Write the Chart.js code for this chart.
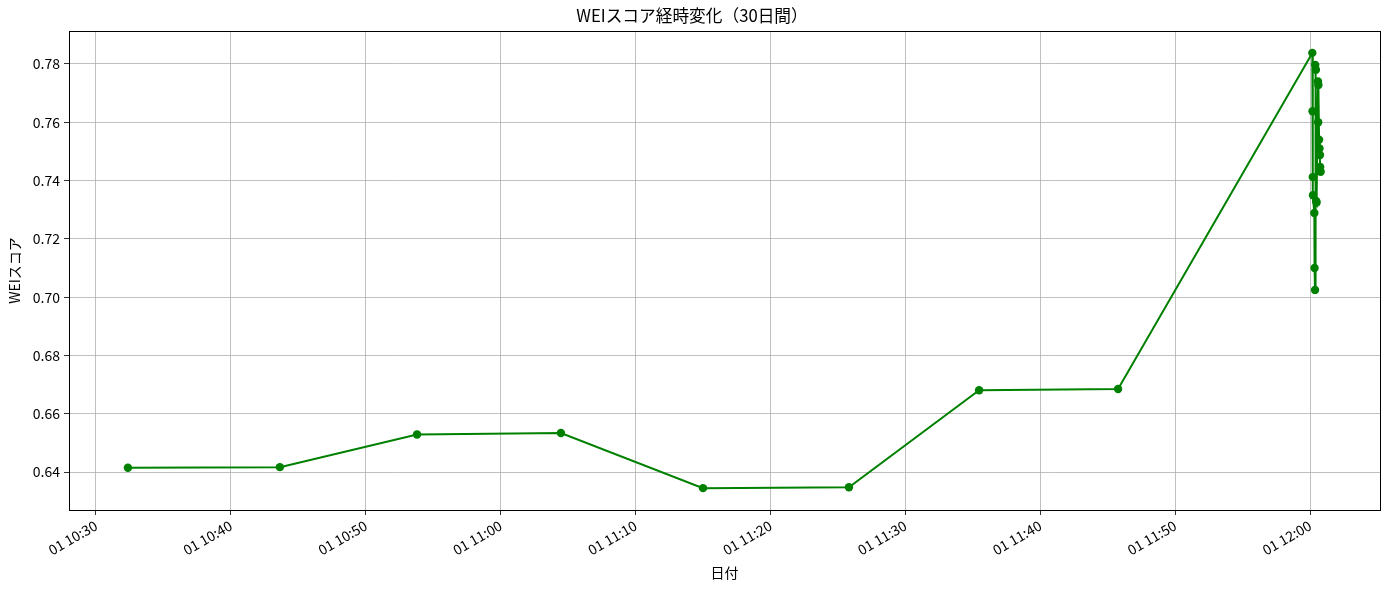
<!DOCTYPE html>
<html>
<head>
<meta charset="utf-8">
<script src="https://cdn.jsdelivr.net/npm/chart.js@4.4.1/dist/chart.umd.min.js"></script>
<style>
  html, body { margin: 0; padding: 0; background: #fff; }
  #wrap { width: 1389px; height: 590px; }
</style>
</head>
<body>
<div id="wrap"><canvas id="weiChart" width="1389" height="590"></canvas></div>
<script>
// 計測時刻（01日）とWEIスコア
const times = ['10:32:22', '10:43:38', '10:53:48', '11:04:28', '11:15:00', '11:25:49', '11:35:28', '11:45:46',
  '12:00:10', '12:00:11', '12:00:12', '12:00:13', '12:00:19', '12:00:20', '12:00:22', '12:00:23', '12:00:26',
  '12:00:27', '12:00:29', '12:00:35', '12:00:36', '12:00:37', '12:00:40', '12:00:42', '12:00:44', '12:00:45', '12:00:47'];
const scores = [0.6415, 0.6417, 0.6529, 0.6534, 0.6345, 0.6348, 0.6681, 0.6685,
  0.7838, 0.7638, 0.7412, 0.7350, 0.7289, 0.7100, 0.7025, 0.7797, 0.7780,
  0.7330, 0.7325, 0.7740, 0.7600, 0.7728, 0.7540, 0.7510, 0.7488, 0.7447, 0.7430];
const xTicks = ['10:30', '10:40', '10:50', '11:00', '11:10', '11:20', '11:30', '11:40', '11:50', '12:00'];
const yTicks = [0.64, 0.66, 0.68, 0.70, 0.72, 0.74, 0.76, 0.78];
const dayLabel = '01';

function toMin(t) {
    const p = t.split(':').map(Number);
    return p[0] * 60 + p[1] + (p[2] || 0) / 60;
}
function fmtMin(m) {
    const h = Math.floor(m / 60), mm = Math.round(m - h * 60);
    return dayLabel + ' ' + String(h).padStart(2, '0') + ':' + String(mm).padStart(2, '0');
}

const points = times.map((t, i) => ({ x: toMin(t), y: scores[i] }));
const FONT = '"Noto Sans CJK JP", "DejaVu Sans", sans-serif';

// 上と右の枠線も描く
const frame = {
    id: 'frame',
    afterDraw(chart) {
        const a = chart.chartArea, c = chart.ctx;
        c.save();
        c.strokeStyle = '#000';
        c.lineWidth = 1;
        c.strokeRect(Math.round(a.left) + 0.5, Math.round(a.top) + 0.5, Math.round(a.right - a.left), Math.round(a.bottom - a.top));
        c.restore();
    }
};

new Chart(document.getElementById('weiChart'), {
    type: 'line',
    data: {
        datasets: [{
            data: points,
            borderColor: '#008000',
            backgroundColor: '#008000',
            borderWidth: 2,
            pointRadius: 4.2,
            pointBorderWidth: 0,
            tension: 0
        }]
    },
    options: {
        responsive: false,
        animation: false,
        layout: { padding: { left: 4, right: 9, top: 0, bottom: 9 } },
        plugins: {
            legend: { display: false },
            tooltip: { enabled: false },
            title: {
                display: true,
                text: 'WEIスコア経時変化（30日間）',
                color: '#000',
                font: { family: FONT, size: 16.7, weight: 'normal' },
                padding: { top: 6, bottom: 5 }
            }
        },
        scales: {
            x: {
                type: 'linear',
                min: toMin('10:28:00'),
                max: toMin('12:05:11'),
                afterBuildTicks: axis => { axis.ticks = xTicks.map(t => ({ value: toMin(t) })); },
                afterFit: s => { s.height = 71; },
                grid: { color: '#b0b0b0', lineWidth: 0.8, tickColor: '#000', tickLength: 5, drawOnChartArea: true },
                border: { color: '#000', width: 1 },
                ticks: {
                    color: '#000',
                    font: { family: FONT, size: 14 },
                    minRotation: 30,
                    maxRotation: 30,
                    padding: 2,
                    callback: v => fmtMin(v)
                },
                title: { display: true, text: '日付', color: '#000', font: { family: FONT, size: 14 }, padding: { top: 0, bottom: 0 } }
            },
            y: {
                min: 0.627,
                max: 0.7913,
                afterBuildTicks: axis => { axis.ticks = yTicks.map(v => ({ value: v })); },
                afterFit: s => { s.width = 65; },
                grid: { color: '#b0b0b0', lineWidth: 0.8, tickColor: '#000', tickLength: 5 },
                border: { color: '#000', width: 1 },
                ticks: {
                    color: '#000',
                    font: { family: FONT, size: 14 },
                    padding: 4,
                    callback: v => v.toFixed(2)
                },
                title: { display: true, text: 'WEIスコア', color: '#000', font: { family: FONT, size: 14 }, padding: { top: 2, bottom: 2 } }
            }
        }
    },
    plugins: [frame]
});
</script>
</body>
</html>
